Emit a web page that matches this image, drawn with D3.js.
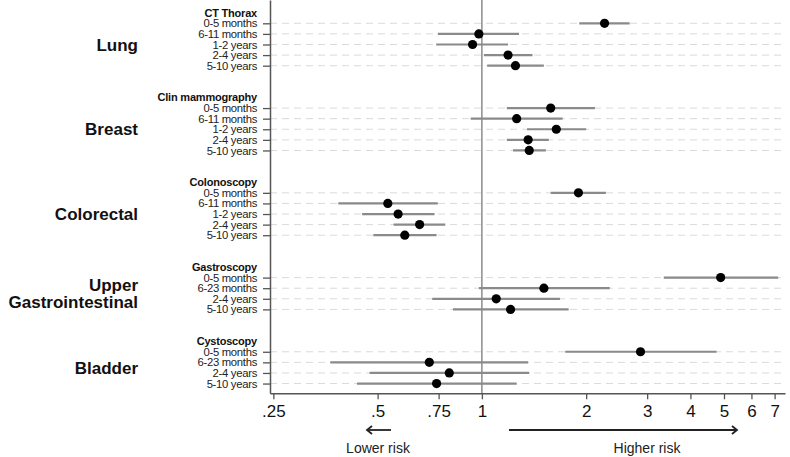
<!DOCTYPE html>
<html>
<head>
<meta charset="utf-8">
<script src="https://cdn.jsdelivr.net/npm/d3@7"></script>
<style>
  body { margin: 0; background: #fff; }
  svg { font-family: "Liberation Sans", Arial, sans-serif; }
</style>
</head>
<body>
<svg id="chart" width="790" height="457"></svg>
<script>
// cancer sites and the procedure shown under each
var groups = [["Lung"], ["Breast"], ["Colorectal"], ["Upper", "Gastrointestinal"], ["Bladder"]];
var procedures = ["CT Thorax", "Clin mammography", "Colonoscopy", "Gastroscopy", "Cystoscopy"];
var rowLabels = [
    ["0-5 months", "6-11 months", "1-2 years", "2-4 years", "5-10 years"],
    ["0-5 months", "6-11 months", "1-2 years", "2-4 years", "5-10 years"],
    ["0-5 months", "6-11 months", "1-2 years", "2-4 years", "5-10 years"],
    ["0-5 months", "6-23 months", "2-4 years", "5-10 years"],
    ["0-5 months", "6-23 months", "2-4 years", "5-10 years"]
];
// point estimates and confidence limits
var estimate = [
    [2.26, 0.98, 0.94, 1.19, 1.25],
    [1.58, 1.26, 1.64, 1.36, 1.37],
    [1.90, 0.535, 0.573, 0.661, 0.599],
    [4.89, 1.51, 1.10, 1.21],
    [2.87, 0.705, 0.805, 0.740]
];
var lower = [
    [1.91, 0.746, 0.738, 1.013, 1.036],
    [1.18, 0.928, 1.35, 1.18, 1.23],
    [1.58, 0.385, 0.451, 0.556, 0.486],
    [3.35, 0.98, 0.719, 0.825],
    [1.74, 0.365, 0.474, 0.436]
];
var upper = [
    [2.67, 1.28, 1.19, 1.40, 1.51],
    [2.12, 1.71, 2.00, 1.56, 1.53],
    [2.28, 0.746, 0.730, 0.784, 0.740],
    [7.17, 2.34, 1.68, 1.78],
    [4.76, 1.36, 1.37, 1.26]
];
var xTicks = [0.25, 0.5, 0.75, 1, 2, 3, 4, 5, 6, 7];
var xTickLabels = [".25", ".5", ".75", "1", "2", "3", "4", "5", "6", "7"];

var plotLeft = 270, plotRight = 785, plotTop = 0, plotBottom = 393.3;

// lay rows out: a header slot, the rows, then two empty slots
var rows = [];
var headers = [];
var groupCentres = [];
var slot = 0;
for (var g = 0; g < groups.length; g++) {
    headers.push({ label: procedures[g], slot: slot });
    slot++;
    var first = slot;
    for (var r = 0; r < rowLabels[g].length; r++) {
        rows.push({
            label: rowLabels[g][r], slot: slot,
            est: estimate[g][r], lo: lower[g][r], hi: upper[g][r]
        });
        slot++;
    }
    groupCentres.push({ lines: groups[g], slot: (first + slot - 1) / 2 });
    slot += 2;
}

var xScale = d3.scaleLog().domain([0.2445, 7.5]).range([plotLeft, plotRight]);
var yScale = d3.scaleLinear().domain([-1.2, 35.92]).range([plotTop, plotBottom]);

var svg = d3.select("#chart");

// dashed row guides
svg.append("g").selectAll("line")
    .data(rows)
    .enter().append("line")
    .attr("x1", plotLeft)
    .attr("x2", plotRight)
    .attr("y1", function (d) { return yScale(d.slot); })
    .attr("y2", function (d) { return yScale(d.slot); })
    .attr("stroke", "#dadada")
    .attr("stroke-width", 1)
    .attr("stroke-dasharray", "7,5");

// reference line at 1
svg.append("line")
    .attr("x1", xScale(1)).attr("x2", xScale(1))
    .attr("y1", plotTop).attr("y2", plotBottom)
    .attr("stroke", "#7a7a7a")
    .attr("stroke-width", 1.3);

// x axis
var xAxis = svg.append("g")
    .attr("transform", "translate(0," + plotBottom + ")")
    .call(d3.axisBottom(xScale)
        .tickValues(xTicks)
        .tickSize(6)
        .tickSizeOuter(0)
        .tickPadding(6)
        .tickFormat(function (d, i) { return xTickLabels[i]; }));
xAxis.select(".domain").attr("stroke", "#555").attr("stroke-width", 1.5);
xAxis.selectAll(".tick line").attr("stroke", "#555").attr("stroke-width", 1.3);
xAxis.selectAll(".tick text")
    .attr("fill", "#111")
    .style("font-size", "17px")
    .style("font-family", "Liberation Sans, Arial, sans-serif");

// y axis, ticks only on data rows
var yAxis = svg.append("g")
    .attr("transform", "translate(" + plotLeft + ",0)")
    .call(d3.axisLeft(yScale)
        .tickValues(rows.map(function (d) { return d.slot; }))
        .tickSize(7)
        .tickSizeOuter(0)
        .tickFormat(""));
yAxis.select(".domain").attr("stroke", "#555").attr("stroke-width", 1.5);
yAxis.selectAll(".tick line").attr("stroke", "#555").attr("stroke-width", 1.3);

// row labels
svg.append("g").selectAll("text")
    .data(rows)
    .enter().append("text")
    .attr("x", 257)
    .attr("y", function (d) { return yScale(d.slot); })
    .attr("dy", "0.36em")
    .attr("text-anchor", "end")
    .style("font-size", "11.3px")
    .style("letter-spacing", "-0.3px")
    .attr("fill", "#222")
    .text(function (d) { return d.label; });

// procedure headers
svg.append("g").selectAll("text")
    .data(headers)
    .enter().append("text")
    .attr("x", 257)
    .attr("y", function (d) { return yScale(d.slot); })
    .attr("dy", "0.36em")
    .attr("text-anchor", "end")
    .style("font-size", "11px")
    .style("font-weight", "bold")
    .style("letter-spacing", "-0.2px")
    .attr("fill", "#111")
    .text(function (d) { return d.label; });

// cancer site labels
var site = svg.append("g").selectAll("text")
    .data(groupCentres)
    .enter().append("text")
    .attr("x", 138)
    .attr("y", function (d) { return yScale(d.slot) - (d.lines.length - 1) * 8.8; })
    .attr("text-anchor", "end")
    .style("font-size", "17px")
    .style("font-weight", "bold")
    .attr("fill", "#111");
site.selectAll("tspan")
    .data(function (d) { return d.lines; })
    .enter().append("tspan")
    .attr("x", 138)
    .attr("dy", function (d, i) { return i == 0 ? "0.36em" : "17.6px"; })
    .text(function (d) { return d; });

// confidence intervals
svg.append("g").selectAll("line")
    .data(rows)
    .enter().append("line")
    .attr("x1", function (d) { return xScale(d.lo); })
    .attr("x2", function (d) { return xScale(d.hi); })
    .attr("y1", function (d) { return yScale(d.slot); })
    .attr("y2", function (d) { return yScale(d.slot); })
    .attr("stroke", "#8a8a8a")
    .attr("stroke-width", 2.2);

// point estimates
svg.append("g").selectAll("circle")
    .data(rows)
    .enter().append("circle")
    .attr("cx", function (d) { return xScale(d.est); })
    .attr("cy", function (d) { return yScale(d.slot); })
    .attr("r", 4.6)
    .attr("fill", "#000");

// risk arrows
var arrowY = 430;
var arrows = svg.append("g").attr("stroke", "#222").attr("stroke-width", 1.8).attr("fill", "none");
arrows.append("line").attr("x1", 391).attr("x2", 367).attr("y1", arrowY).attr("y2", arrowY);
arrows.append("path").attr("d", "M372," + (arrowY - 4) + " L367," + arrowY + " L372," + (arrowY + 4));
arrows.append("line").attr("x1", 509).attr("x2", 737).attr("y1", arrowY).attr("y2", arrowY);
arrows.append("path").attr("d", "M732," + (arrowY - 4) + " L737," + arrowY + " L732," + (arrowY + 4));

svg.append("text")
    .attr("x", 378).attr("y", 453)
    .attr("text-anchor", "middle")
    .style("font-size", "14px")
    .attr("fill", "#222")
    .text("Lower risk");
svg.append("text")
    .attr("x", 647).attr("y", 453)
    .attr("text-anchor", "middle")
    .style("font-size", "14px")
    .attr("fill", "#222")
    .text("Higher risk");
</script>
</body>
</html>
